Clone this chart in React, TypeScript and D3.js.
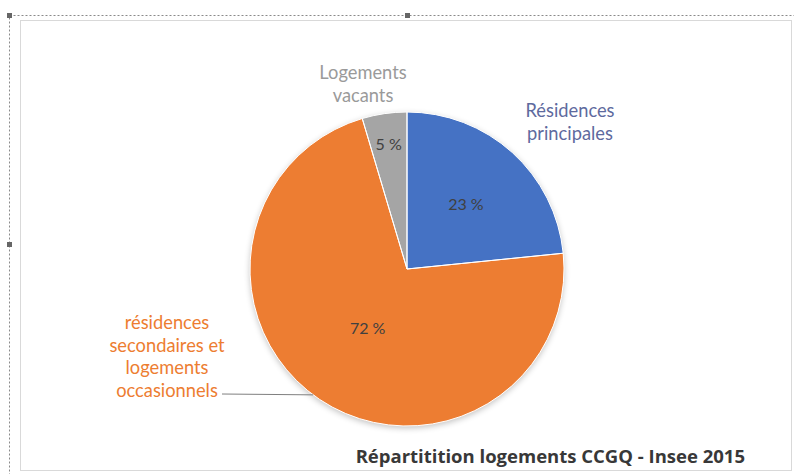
import React from "react";
import * as d3 from "d3";

const categories = [
  "Résidences principales",
  "résidences secondaires et logements occasionnels",
  "Logements vacants",
];
const values = [23.4, 72.0, 4.6];
const colors = ["#4472C4", "#ED7D31", "#A5A5A5"];
const labelColors = ["#5E6A9E", "#ED7D31", "#9A9A9A"];
const categoryLines = [
  ["Résidences", "principales"],
  ["résidences", "secondaires et", "logements", "occasionnels"],
  ["Logements", "vacants"],
];
const title = "Répartitition logements CCGQ - Insee 2015";

const W = 794;
const H = 474;
const cx = 407;
const cy = 269;
const R = 157;
const valueLabelRadius = [0.56, 0.45, 0.81];
const catLabelPos = [
  { x: 570, y: 110, anchor: "middle" },
  { x: 167, y: 322, anchor: "middle" },
  { x: 363, y: 72, anchor: "middle" },
];
const FONT = "Lato, 'Open Sans', sans-serif";

export default function App() {
  const pie = d3.pie<number>().sort(null).value((d) => d)(values);
  const arc = d3.arc<d3.PieArcDatum<number>>().innerRadius(0).outerRadius(R);
  const total = d3.sum(values);
  const fmt = (v: number) => `${Math.round((v / total) * 100)} %`;

  // leader line for the orange label: end on the slice edge
  const leaderAngle = (pie[1].startAngle + pie[1].endAngle) / 2 + 0.05;
  const lx = cx + Math.sin(leaderAngle) * R;
  const ly = cy - Math.cos(leaderAngle) * R;

  return (
    <svg
      width={W}
      height={H}
      style={{ position: "absolute", left: 0, top: 0, background: "#fff" }}
    >
      <defs>
        <filter id="sh" x="-20%" y="-20%" width="140%" height="140%">
          <feGaussianBlur in="SourceAlpha" stdDeviation="3" />
          <feOffset dx="0" dy="2" result="b" />
          <feComponentTransfer>
            <feFuncA type="linear" slope="0.25" />
          </feComponentTransfer>
          <feMerge>
            <feMergeNode />
            <feMergeNode in="SourceGraphic" />
          </feMerge>
        </filter>
      </defs>
      {/* selection frame */}
      <rect
        x={9.5}
        y={15.5}
        width={W}
        height={H}
        fill="none"
        stroke="#8a8a8a"
        strokeDasharray="2,2"
      />
      <rect
        x={20.5}
        y={20.5}
        width={771}
        height={450}
        fill="#fff"
        stroke="#d9d9d9"
      />
      <rect x={7} y={13} width={5} height={5} fill="#666" />
      <rect x={405} y={13} width={5} height={5} fill="#666" />
      <rect x={7} y={242} width={5} height={5} fill="#666" />

      <g transform={`translate(${cx},${cy})`} filter="url(#sh)">
        {pie.map((p, i) => (
          <path key={i} d={arc(p) || ""} fill={colors[i]} />
        ))}
      </g>
      <g transform={`translate(${cx},${cy})`}>
        {pie.map((p, i) => (
          <path key={i} d={arc(p) || ""} fill="none" stroke="#fff" strokeWidth={1} />
        ))}
      </g>

      {pie.map((p, i) => {
        const a = (p.startAngle + p.endAngle) / 2;
        const r = R * valueLabelRadius[i];
        return (
          <text
            key={i}
            x={cx + Math.sin(a) * r}
            y={cy - Math.cos(a) * r}
            textAnchor="middle"
            dominantBaseline="central"
            fontFamily={FONT}
            fontSize={16}
            fill="#404040"
          >
            {fmt(p.value)}
          </text>
        );
      })}

      {categoryLines.map((lines, i) => (
        <text
          key={i}
          textAnchor={catLabelPos[i].anchor as any}
          fontFamily={FONT}
          fontSize={18.3}
          fill={labelColors[i]}
        >
          {lines.map((l, j) => (
            <tspan
              key={j}
              x={catLabelPos[i].x}
              y={catLabelPos[i].y + j * 22.5}
              dominantBaseline="central"
            >
              {l}
            </tspan>
          ))}
        </text>
      ))}

      <polyline
        points={`222,394 ${lx},${ly}`}
        fill="none"
        stroke="#7f7f7f"
        strokeWidth={1}
      />

      <text
        x={745}
        y={463}
        textAnchor="end"
        fontFamily="'Open Sans', sans-serif"
        fontWeight="bold"
        fontSize={18.5}
        fill="#383838"
      >
        {title}
      </text>
    </svg>
  );
}
